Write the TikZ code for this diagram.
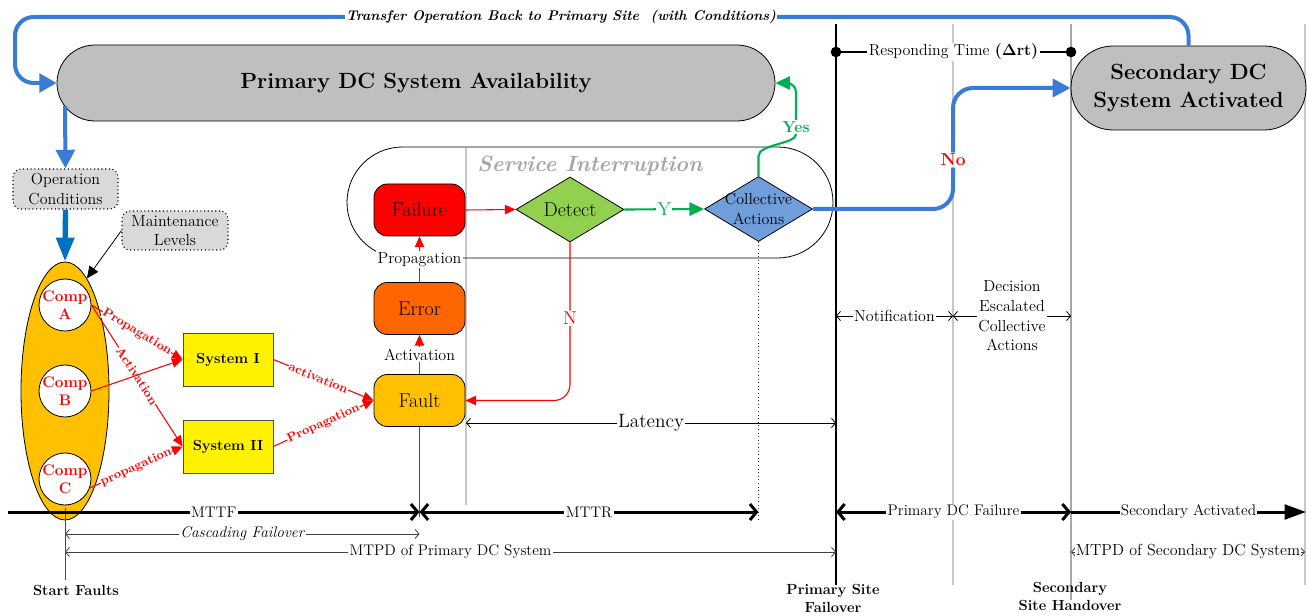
\documentclass[tikz,border=0pt]{standalone}
\usetikzlibrary{shapes.geometric,shapes.misc,arrows.meta,backgrounds,calc}
\definecolor{bl}{HTML}{3A7BD5}
\definecolor{dbl}{HTML}{0070C0}
\definecolor{gr}{HTML}{00B050}
\definecolor{orA}{HTML}{FFC000}
\definecolor{orE}{HTML}{FF6600}
\definecolor{lgreen}{HTML}{92D050}
\definecolor{cblue}{HTML}{6F9EDB}
\definecolor{boxgray}{HTML}{BFBFBF}
\definecolor{notegray}{HTML}{D9D9D9}
\definecolor{vlgray}{HTML}{C8C8C8}
\definecolor{vmgray}{HTML}{A6A6A6}
\begin{document}
\begin{tikzpicture}[x=0.75pt,y=-0.75pt,
 tbarb/.tip={Straight Barb[length=5pt,width=12pt]},
 sbarb/.tip={Straight Barb[length=3pt,width=7pt]},
 stadium/.style={rounded rectangle, draw=black, line width=0.6pt, fill=boxgray, inner sep=0, align=center, font=\bfseries\fontsize{16.5}{21}\selectfont},
 note/.style={draw=black, dotted, line width=0.8pt, fill=notegray, rounded corners=6pt, minimum width=78.75pt, minimum height=30pt, align=center, inner sep=0, font=\fontsize{12}{14.5}\selectfont},
 evbox/.style={draw=black, line width=0.6pt, rounded corners=10pt, minimum width=68.25pt, minimum height=39pt, inner sep=0, font=\fontsize{15}{18}\selectfont},
 sysbox/.style={draw=black!70, line width=0.6pt, fill=yellow, minimum width=67.5pt, minimum height=39.75pt, inner sep=0, font=\bfseries\fontsize{11}{13}\selectfont},
 comp/.style={circle, draw=black, line width=0.6pt, fill=white, minimum size=39pt, inner sep=0},
 complbl/.style={text=red, font=\bfseries\fontsize{11.5}{13.5}\selectfont, align=center},
 diam/.style={diamond, draw=black, line width=0.6pt, minimum width=81pt, minimum height=48.75pt, inner sep=0},
 redarr/.style={draw=red, line width=0.8pt, -{Triangle[length=8pt,width=7pt]}},
 greenarr/.style={draw=gr, line width=1.6pt, -{Triangle[length=11pt,width=10pt]}},
 bluearr/.style={draw=bl, line width=3pt},
 redlbl/.style={text=red, font=\bfseries\fontsize{9.3}{11}\selectfont, fill=white, inner sep=0.3pt, sloped},
 lbl/.style={fill=white, inner sep=1pt, font=\fontsize{12}{14.5}\selectfont},
 tlbl/.style={fill=white, inner sep=1pt, font=\fontsize{11.5}{14}\selectfont},
 thick3/.style={line width=2.25pt},
 dim/.style={draw=black!75, line width=0.6pt, {sbarb}-{sbarb}},
 botlbl/.style={font=\bfseries\fontsize{11}{13.5}\selectfont, align=center, inner sep=1pt}
]
\useasboundingbox (0,0) rectangle (1307,616);

% ---------- main boxes ----------
\node[stadium, minimum width=538.5pt, minimum height=57pt] (prim) at (416,83) {Primary DC System Availability};
\node[stadium, minimum width=176.25pt, minimum height=63pt] (sec) at (1188.5,88) {Secondary DC\\System Activated};

\node[note] (oc) at (65.5,189) {Operation\\Conditions};
\node[note, minimum width=79.5pt, minimum height=29.25pt] (mt) at (175,230.5) {Maintenance\\Levels};

\node[ellipse, draw=black, line width=0.6pt, fill=orA, minimum width=66pt, minimum height=193.5pt, inner sep=0] (ell) at (65,391) {};
\node[comp, label={[complbl]center:{Comp\\A}}] (ca) at (65,305) {};
\node[comp, label={[complbl]center:{Comp\\B}}] (cb) at (65,391) {};
\node[comp, label={[complbl]center:{Comp\\C}}] (cc) at (65,479) {};

\node[sysbox] (s1) at (228,359.5) {System I};
\node[sysbox] (s2) at (228,446.5) {System II};

\node[rounded rectangle, draw=black, line width=0.6pt, minimum width=364.5pt, minimum height=83.25pt, inner sep=0] (si) at (590,202.5) {};
\node[font=\bfseries\itshape\fontsize{16.5}{20}\selectfont, text=vmgray] (sit) at (590,166) {Service Interruption};

\node[evbox, fill=red] (failure) at (419.5,210) {Failure};
\node[evbox, fill=orE] (error) at (419.5,308.5) {Error};
\node[evbox, fill=orA] (fault) at (419.5,400.5) {Fault};

\node[diam, fill=lgreen, label={[font=\fontsize{15}{18}\selectfont]center:Detect}] (detect) at (570,209.5) {};
\node[diam, fill=cblue, label={[font=\fontsize{12}{14.5}\selectfont, align=center]center:{Collective\\Actions}}] (coll) at (758.5,209) {};

% ---------- background time lines ----------
\begin{scope}[on background layer]
\fill[white] (0,0) rectangle (1307,616);
\draw[vlgray, line width=1pt] (466,148) -- (466,505);
\draw[black!80, dotted, line width=0.7pt] (coll.south) -- (758.5,522);
\draw[black, line width=2pt] (836,24) -- (836,585);
\draw[vlgray, line width=1.5pt] (953,24) -- (953,585);
\draw[vmgray, line width=2pt] (1071,24) -- (1071,600);
\draw[vlgray, line width=1.5pt] (1305,24) -- (1305,585);
\end{scope}

% ---------- top loop ----------
\coordinate (tl) at (15,17);
\draw[bluearr, rounded corners=14pt, -{Triangle[length=13pt,width=14pt]}] (sec.north) |- (tl) |- (prim.west);
\node[fill=white, inner sep=1pt, font=\bfseries\itshape\fontsize{10.5}{12}\selectfont] (transfer) at (561,17) {Transfer Operation Back to Primary Site\ \ (with Conditions)};

% ---------- left column arrows ----------
\coordinate (pbot) at (65,106);
\draw[bluearr, -{Triangle[length=14pt,width=14pt]}] (pbot) -- (oc.north);
\draw[draw=dbl, line width=4pt, -{Triangle[length=18pt,width=13pt]}] (oc.south) -- (ell.north);
\draw[line width=0.6pt, -{Triangle[length=9pt,width=8pt]}] (mt.west) -- (ell.79);

\draw[redarr] (ca.east) -- node[redlbl]{Propagation} (s1.west);
\draw[redarr] (ca.east) -- node[redlbl]{Activation} (s2.west);
\draw[redarr] (cb.east) -- (s1.west);
\draw[redarr] (cc.-20) -- node[redlbl]{propagation} (s2.west);
\draw[redarr] (s1.east) -- node[redlbl,pos=0.45]{activation} (fault.west);
\draw[redarr] (s2.east) -- node[redlbl]{Propagation} (fault.west);

% ---------- event chain ----------
\draw[redarr] (fault.north) -- node[lbl]{Activation} (error.south);
\draw[redarr] (error.north) -- node[lbl]{Propagation} (failure.south);
\draw[redarr] (failure.east) -- (detect.west);
\draw[greenarr] (detect.east) -- node[fill=white, text=gr, inner sep=1pt, font=\fontsize{14}{16}\selectfont]{Y} (coll.west);
\draw[redarr, rounded corners=12pt] (detect.south) |- node[pos=0.24, fill=white, text=red, inner sep=1pt, font=\fontsize{14}{16}\selectfont]{N} (fault.east);

\node[fill=white, text=gr, inner sep=1pt, font=\bfseries\fontsize{12}{14}\selectfont] (yes) at (796,127) {Yes};
\draw[gr, line width=1.6pt] (coll.north) -- ++(0,-20) .. controls +(0,-12) and +(0,10) .. (yes.south);
\draw[greenarr, rounded corners=7pt] (yes.north) |- (prim.east);

\node[fill=white, text=red, inner sep=1pt, font=\bfseries\fontsize{13}{15}\selectfont] (no) at (953,160) {No};
\draw[bluearr, rounded corners=15pt] (coll.east) -| (no.south);
\draw[bluearr, rounded corners=15pt, -{Triangle[length=13.5pt,width=13.5pt]}] (no.north) |- (sec.west);

% ---------- responding time ----------
\coordinate (rt1) at (836,52);
\coordinate (rt2) at (1071,52);
\draw[line width=1.5pt] (rt1) -- node[lbl]{Responding Time \textbf{($\mathbf{\Delta}$rt)}} (rt2);
\fill (rt1) circle (4pt);
\fill (rt2) circle (4pt);

% ---------- notification ----------
\coordinate (n1) at (836,316);
\coordinate (n2) at (953,316);
\coordinate (n3) at (1071,316);
\draw[dim, draw=black] (n1) -- node[lbl]{Notification} (n2);
\draw[dim, draw=black] (n2) -- node[lbl, font=\fontsize{12}{14.8}\selectfont, align=center]{Decision\\Escalated\\Collective\\Actions} (n3);

% ---------- latency ----------
\coordinate (la1) at (466,423);
\coordinate (la2) at (836,423);
\draw[dim, draw=black] (la1) -- node[fill=white, inner sep=1pt, font=\fontsize{14.5}{17}\selectfont]{Latency} (la2);

% ---------- vertical markers ----------
\coordinate (sfTop) at (65,508);
\node[botlbl] (sf) at (76,590) {Start Faults};
\draw[black!70, line width=0.7pt] (sfTop) -- (65,580);
\draw[black!70, line width=0.7pt] (fault.south) -- (419.5,517);
\node[botlbl] (psf) at (833,598) {Primary Site\\Failover};
\node[botlbl] (ssh) at (1070,596) {Secondary\\Site Handover};

% ---------- timeline ----------
\coordinate (t0) at (8,512);
\coordinate (t1) at (419.5,512);
\coordinate (t2) at (758.5,512);
\coordinate (t3) at (836,512);
\coordinate (t4) at (1071,512);
\coordinate (t5) at (1306,512);
\draw[thick3, -{tbarb}] (t0) -- node[tlbl]{MTTF} (t1);
\draw[thick3, {tbarb}-{tbarb}] (t1) -- node[tlbl]{MTTR} (t2);
\draw[thick3, {tbarb}-{tbarb}] (t3) -- node[tlbl]{Primary DC Failure} (t4);
\draw[thick3, -{Triangle[length=16pt,width=11pt]}] (t4) -- node[tlbl]{Secondary Activated} (t5);

\coordinate (c1) at (65,534);
\coordinate (c2) at (419.5,534);
\draw[dim] (c1) -- node[tlbl, font=\itshape\fontsize{11.5}{14}\selectfont]{Cascading Failover} (c2);
\coordinate (m1) at (65,552);
\coordinate (m2) at (836,552);
\draw[dim] (m1) -- node[tlbl]{MTPD of Primary DC System} (m2);
\coordinate (m3) at (1071,552);
\coordinate (m4) at (1305,552);
\draw[dim] (m3) -- node[tlbl, inner sep=0.3pt, font=\fontsize{12}{14}\selectfont]{MTPD of Secondary DC System} (m4);
\end{tikzpicture}
\end{document}
